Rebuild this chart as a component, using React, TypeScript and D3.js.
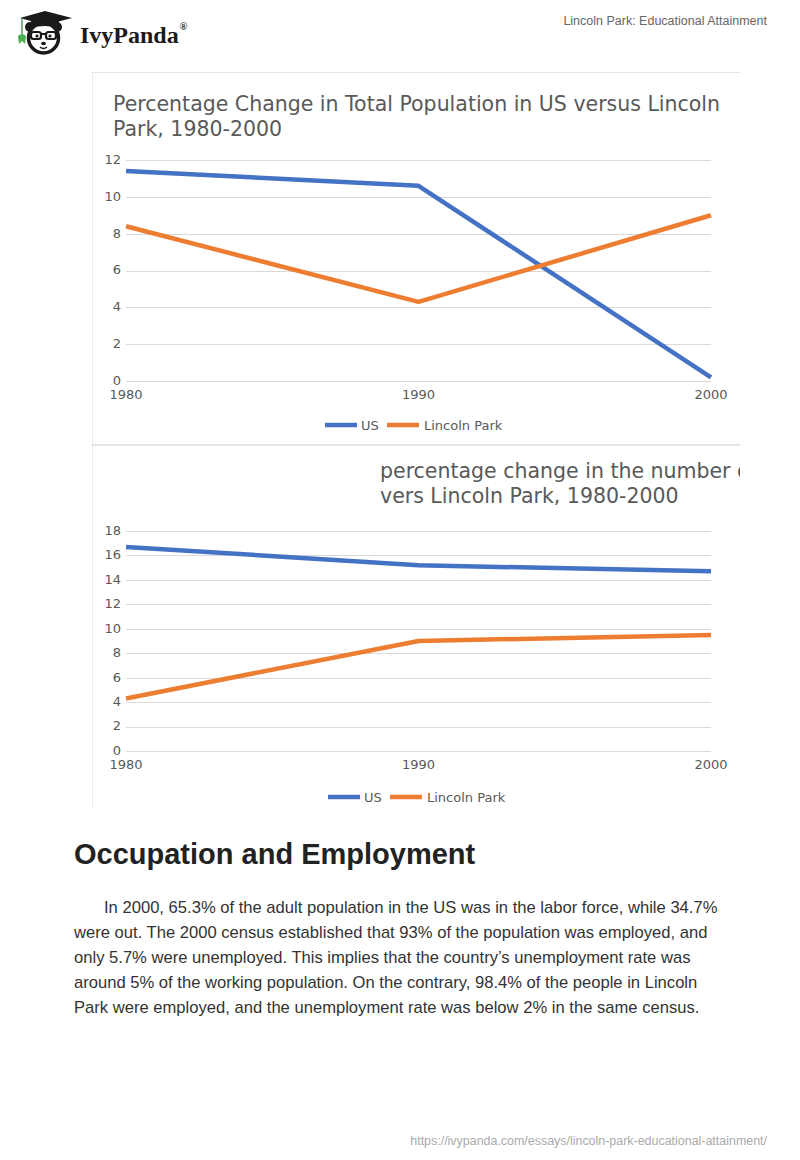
import React from "react";
import * as d3 from "d3";

const years = [1980, 1990, 2000];
const xTickLabels = ["1980", "1990", "2000"];
const seriesNames = ["US", "Lincoln Park"];
const seriesColors = ["#4472C4", "#ED7D31"];

// Chart 1: Percentage change in total population
const popUS = [11.4, 10.6, 0.2];
const popLP = [8.4, 4.3, 9.0];
const yTicks1 = [0, 2, 4, 6, 8, 10, 12];

// Chart 2: percentage change in the number of ...
const numUS = [16.7, 15.2, 14.7];
const numLP = [4.3, 9.0, 9.5];
const yTicks2 = [0, 2, 4, 6, 8, 10, 12, 14, 16, 18];

const paragraph = [
  "In 2000, 65.3% of the adult population in the US was in the labor force, while 34.7%",
  "were out. The 2000 census established that 93% of the population was employed, and",
  "only 5.7% were unemployed. This implies that the country\u2019s unemployment rate was",
  "around 5% of the working population. On the contrary, 98.4% of the people in Lincoln",
  "Park were employed, and the unemployment rate was below 2% in the same census.",
];

const chartFont = "'DejaVu Sans', sans-serif";
const textGray = "#595959";

type ChartProps = {
  top: number;
  bottom: number;
  y0: number;
  yTop: number;
  yMax: number;
  ticks: number[];
  us: number[];
  lp: number[];
  titleLines: string[];
  titleX: number;
  titleY: number;
  legendY: number;
  legendX: number;
  clipId: string;
};

function LineChart(p: ChartProps) {
  const x = d3.scaleLinear().domain([1980, 2000]).range([126, 711]);
  const y = d3.scaleLinear().domain([0, p.yMax]).range([p.y0, p.yTop]);
  const line = d3
    .line<number>()
    .x((_, i) => x(years[i]))
    .y((d) => y(d));
  const data = [p.us, p.lp];
  return (
    <g>
      <defs>
        <clipPath id={p.clipId}>
          <rect x={92} y={p.top} width={648} height={p.bottom - p.top} />
        </clipPath>
      </defs>
      <rect x={92} y={p.top} width={648} height={p.bottom - p.top} fill="#fff" />
      <line x1={92} x2={740} y1={p.top + 0.5} y2={p.top + 0.5} stroke="#e4e4e4" />
      <line x1={92.5} x2={92.5} y1={p.top} y2={p.bottom} stroke="#ececec" />
      <g clipPath={`url(#${p.clipId})`}>
        {p.titleLines.map((t, i) => (
          <text
            key={i}
            x={p.titleX}
            y={p.titleY + i * 24.5}
            fontFamily={chartFont}
            fontSize={20.5}
            fill={textGray}
          >
            {t}
          </text>
        ))}
      </g>
      {p.ticks.map((t) => (
        <g key={t}>
          <line
            x1={126}
            x2={711}
            y1={Math.round(y(t)) + 0.5}
            y2={Math.round(y(t)) + 0.5}
            stroke="#d9d9d9"
            strokeWidth={1}
          />
          <text
            x={121}
            y={y(t)}
            dy="0.3em"
            textAnchor="end"
            fontFamily={chartFont}
            fontSize={13}
            fill={textGray}
          >
            {t}
          </text>
        </g>
      ))}
      {years.map((yr, i) => (
        <text
          key={yr}
          x={x(yr)}
          y={p.y0 + 18}
          textAnchor="middle"
          fontFamily={chartFont}
          fontSize={13}
          fill={textGray}
        >
          {xTickLabels[i]}
        </text>
      ))}
      {data.map((d, i) => (
        <path
          key={i}
          d={line(d) || ""}
          fill="none"
          stroke={seriesColors[i]}
          strokeWidth={4.5}
          strokeLinejoin="round"
        />
      ))}
      <g>
        <line x1={p.legendX} x2={p.legendX + 32} y1={p.legendY} y2={p.legendY} stroke={seriesColors[0]} strokeWidth={4.5} />
        <text x={p.legendX + 36} y={p.legendY + 5} fontFamily={chartFont} fontSize={13} fill={textGray}>
          {seriesNames[0]}
        </text>
        <line x1={p.legendX + 62} x2={p.legendX + 94} y1={p.legendY} y2={p.legendY} stroke={seriesColors[1]} strokeWidth={4.5} />
        <text x={p.legendX + 99} y={p.legendY + 5} fontFamily={chartFont} fontSize={13} fill={textGray}>
          {seriesNames[1]}
        </text>
      </g>
    </g>
  );
}

function Logo() {
  const ink = "#1a1a1a";
  return (
    <g>
      {/* ears */}
      <circle cx={30} cy={27} r={5} fill={ink} />
      <circle cx={57} cy={27} r={5} fill={ink} />
      {/* face */}
      <circle cx={43.5} cy={38} r={15} fill="#fff" stroke={ink} strokeWidth={3.5} />
      {/* glasses */}
      <rect x={31} y={32} width={10} height={7} rx={2.5} fill="#fff" stroke={ink} strokeWidth={2.2} />
      <rect x={46} y={32} width={10} height={7} rx={2.5} fill="#fff" stroke={ink} strokeWidth={2.2} />
      <line x1={41} x2={46} y1={34} y2={34} stroke={ink} strokeWidth={2} />
      <circle cx={37} cy={36} r={1.6} fill={ink} />
      <circle cx={50} cy={36} r={1.6} fill={ink} />
      {/* nose & mouth */}
      <ellipse cx={43.5} cy={43.5} rx={2.5} ry={1.8} fill={ink} />
      <path d="M40,47 Q43.5,50 47,47" fill="none" stroke={ink} strokeWidth={1.5} />
      {/* cap */}
      <path d="M20,18 L45,11 L72,18 L45,25 Z" fill={ink} />
      <path d="M31,20 L31,28 Q45,24 59,28 L59,20 L45,25 Z" fill={ink} />
      {/* tassel */}
      <line x1={22} x2={22} y1={18} y2={34} stroke="#2e7d32" strokeWidth={1.2} />
      <path d="M18,36 Q22,32 26,36 L25,44 L22,41 L19,44 Z" fill="#4caf50" />
      <text x={80} y={43} fontFamily="'Liberation Serif', serif" fontSize={24} fill={ink} fontWeight={700}>
        IvyPanda
      </text>
      <text x={179.5} y={30} fontFamily="'Liberation Serif', serif" fontSize={10.5} fill={ink} fontWeight={700}>
        ®
      </text>
    </g>
  );
}

export default function App() {
  return (
    <svg
      width={800}
      height={1160}
      viewBox="0 0 800 1160"
      style={{ position: "absolute", left: 0, top: 0, background: "#fff" }}
    >
      <rect x={0} y={0} width={800} height={1160} fill="#fff" />
      <Logo />
      <text
        x={767}
        y={25}
        textAnchor="end"
        fontFamily="'Liberation Sans', Arial, sans-serif"
        fontSize={12.5}
        fill="#666"
      >
        Lincoln Park: Educational Attainment
      </text>

      <LineChart
        top={72}
        bottom={444}
        y0={381}
        yTop={160}
        yMax={12}
        ticks={yTicks1}
        us={popUS}
        lp={popLP}
        titleLines={["Percentage Change in Total Population in US versus Lincoln", "Park, 1980-2000"]}
        titleX={113}
        titleY={111}
        legendY={425}
        legendX={325}
        clipId="clip1"
      />
      <line x1={92} x2={740} y1={444.5} y2={444.5} stroke="#e4e4e4" />
      <LineChart
        top={445}
        bottom={808}
        y0={751}
        yTop={531}
        yMax={18}
        ticks={yTicks2}
        us={numUS}
        lp={numLP}
        titleLines={["percentage change in the number o", "vers Lincoln Park, 1980-2000"]}
        titleX={380}
        titleY={478}
        legendY={797}
        legendX={328}
        clipId="clip2"
      />

      <text
        x={74}
        y={864}
        fontFamily="'Liberation Sans', Arial, sans-serif"
        fontWeight={700}
        fontSize={29}
        fill="#222"
      >
        Occupation and Employment
      </text>
      {paragraph.map((line, i) => (
        <text
          key={i}
          x={i === 0 ? 104 : 74}
          y={913 + i * 25}
          fontFamily="'Liberation Sans', Arial, sans-serif"
          fontSize={16.6}
          fill="#333"
        >
          {line}
        </text>
      ))}
      <text
        x={767}
        y={1145}
        textAnchor="end"
        fontFamily="'Liberation Sans', Arial, sans-serif"
        fontSize={12.45}
        fill="#aaa"
      >
        https://ivypanda.com/essays/lincoln-park-educational-attainment/
      </text>
    </svg>
  );
}
